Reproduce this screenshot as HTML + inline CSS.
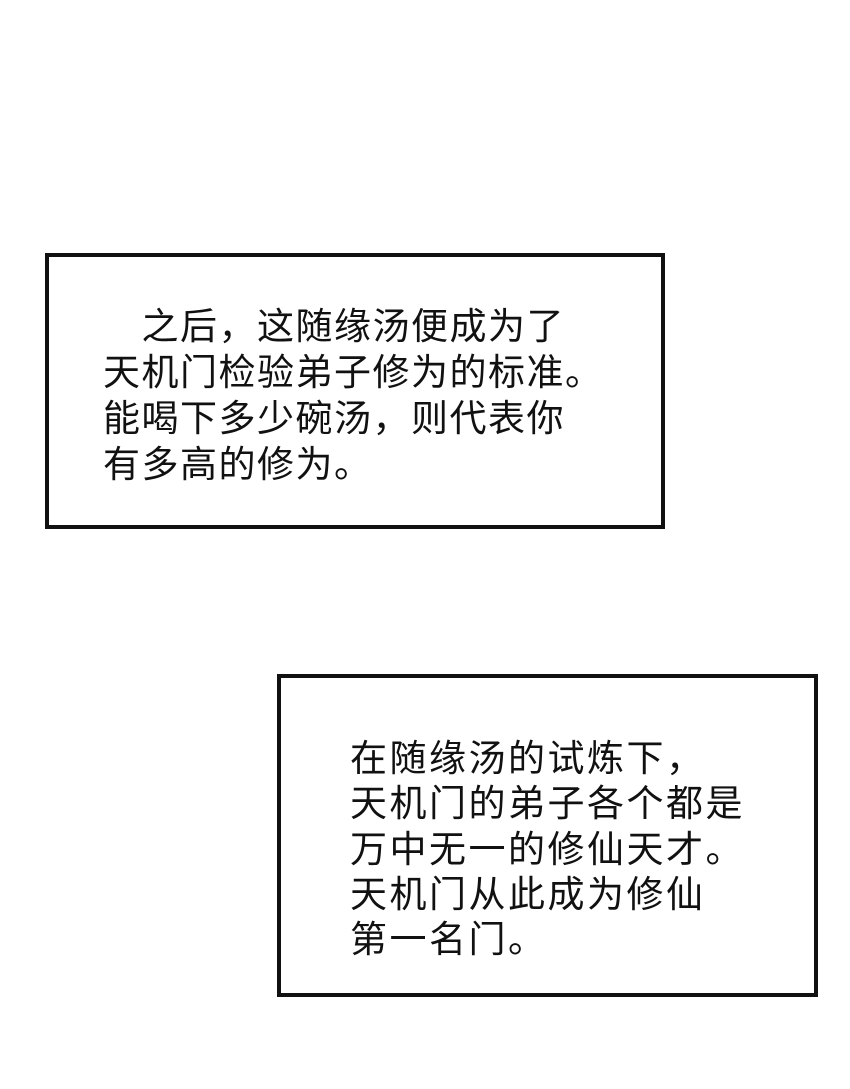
<!DOCTYPE html>
<html><head><meta charset="utf-8"><style>
html,body{margin:0;padding:0;background:#fff;}
body{width:850px;height:1089px;position:relative;overflow:hidden;}
.box{position:absolute;border:4px solid #111;box-sizing:border-box;background:#fff;}
.t{position:absolute;font-family:"Liberation Sans","Noto Sans CJK SC",sans-serif;font-size:37px;line-height:46px;color:#111;white-space:nowrap;letter-spacing:1.5px;}
</style></head><body>
<div class="box" style="left:45px;top:253px;width:620px;height:276px;"></div>
<div class="t" style="left:103px;top:304px;">&#12288;之后，这随缘汤便成为了<br>天机门检验弟子修为的标准。<br>能喝下多少碗汤，则代表你<br>有多高的修为。</div>
<div class="box" style="left:277px;top:674px;width:541px;height:323px;"></div>
<div class="t" style="left:350px;top:736px;line-height:45.3px;letter-spacing:2.5px;">在随缘汤的试炼下，<br>天机门的弟子各个都是<br>万中无一的修仙天才。<br>天机门从此成为修仙<br>第一名门。</div>
</body></html>
